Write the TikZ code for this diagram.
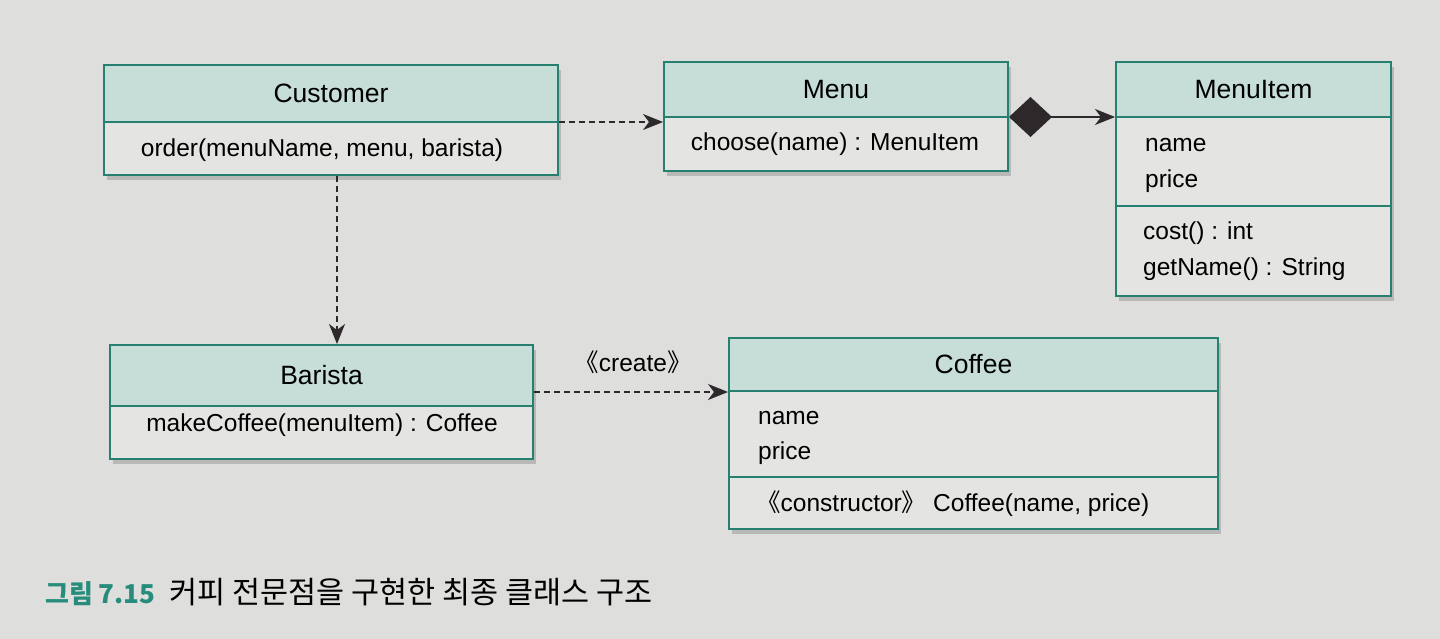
\documentclass[tikz,border=0pt]{standalone}
\usepackage{fontspec}
\setmainfont{Liberation Sans}
\newfontfamily\kr{Noto Sans CJK KR}
\usetikzlibrary{arrows.meta,shadows}
\definecolor{bgc}{RGB}{222,223,220}
\definecolor{hdc}{RGB}{198,221,216}
\definecolor{bdc}{RGB}{228,229,226}
\definecolor{lnc}{RGB}{38,128,112}
\definecolor{capc}{RGB}{40,140,125}
\definecolor{arc}{RGB}{45,40,42}
\tikzset{
 cls/.style={draw=lnc, line width=2pt, fill=bdc, anchor=north west, inner sep=0pt,
   drop shadow={shadow xshift=3pt, shadow yshift=-5pt, opacity=0.4}},
 hdr/.style={draw=lnc, line width=2pt, fill=hdc, anchor=north west, inner sep=0pt,
   font=\fontsize{26.5}{30}\selectfont},
 sepl/.style={draw=lnc, line width=2pt},
 txt/.style={font=\fontsize{24.5}{28}\selectfont, inner sep=0pt},
 ltxt/.style={txt, anchor=west},
 dep/.style={draw=arc, line width=2pt, dash pattern=on 6pt off 4pt,
   -{Stealth[length=20pt,width=16pt,inset=6pt]}},
 comp/.style={draw=arc, line width=2pt,
   {Diamond[length=43pt,width=40pt]}-{Stealth[length=20pt,width=16pt,inset=6pt]}},
}
\begin{document}
\begin{tikzpicture}[x=1pt,y=-1pt]
\fill[bgc] (0,0) rectangle (1440,639);
\useasboundingbox (0,0) rectangle (1440,639);

% Customer
\node[cls, minimum width=454pt, minimum height=110pt] (cust) at (103,64) {};
\node[hdr, minimum width=454pt, minimum height=57pt] (custh) at (103,64) {Customer};
\node[txt] (custm) at (322,150) {order(menuName, menu, barista)};

% Menu
\node[cls, minimum width=344pt, minimum height=109pt] (menu) at (663,61) {};
\node[hdr, minimum width=344pt, minimum height=55pt] (menuh) at (663,61) {Menu};
\node[txt] (menum) at (835,144) {choose(name) : MenuItem};

% MenuItem
\node[cls, minimum width=275pt, minimum height=234pt] (mi) at (1115,61) {};
\node[hdr, minimum width=275pt, minimum height=55pt] (mih) at (1115,61) {MenuItem};
\draw[sepl] (mi.west |- 0,206) -- (mi.east |- 0,206);
\node[ltxt] (mia1) at (1145,145) {name};
\node[ltxt] (mia2) at (1145,181) {price};
\node[ltxt] (mim1) at (1143,233) {cost() : int};
\node[ltxt] (mim2) at (1143,269) {getName() : String};

% Barista
\node[cls, minimum width=423pt, minimum height=114pt] (bar) at (109,344) {};
\node[hdr, minimum width=423pt, minimum height=61pt] (barh) at (109,344) {Barista};
\node[txt] (barm) at (322,425) {makeCoffee(menuItem) : Coffee};

% Coffee
\node[cls, minimum width=489pt, minimum height=191pt] (cof) at (728,337) {};
\node[hdr, minimum width=489pt, minimum height=53pt] (cofh) at (728,337) {Coffee};
\draw[sepl] (cof.west |- 0,477) -- (cof.east |- 0,477);
\node[ltxt] (cofa1) at (758,418) {name};
\node[ltxt] (cofa2) at (758,453) {price};
\node[ltxt] (cofm) at (756,504) {{\kr 《}constructor{\kr 》} Coffee(name, price)};

% connectors
\coordinate (l1) at (0,122);
\coordinate (l2) at (337,0);
\coordinate (l3) at (0,117);
\coordinate (l4) at (0,392);
\draw[dep] (cust.east |- l1) -- (menu.west |- l1);
\draw[dep] (cust.south -| l2) -- (bar.north -| l2);
\draw[comp] (menu.east |- l3) -- (mi.west |- l3);
\draw[dep] (bar.east |- l4) -- (cof.west |- l4);
\node[txt] (crl) at (633,362) {{\kr 《}create{\kr 》}};

% caption
\node[anchor=west, inner sep=0pt, font=\kr\fontsize{30.5}{34}\selectfont] (cap) at (45,592)
  {{\fontsize{26}{30}\selectfont\bfseries\color{capc}그림 7.15}\hspace{14pt}커피 전문점을 구현한 최종 클래스 구조};
\end{tikzpicture}
\end{document}
